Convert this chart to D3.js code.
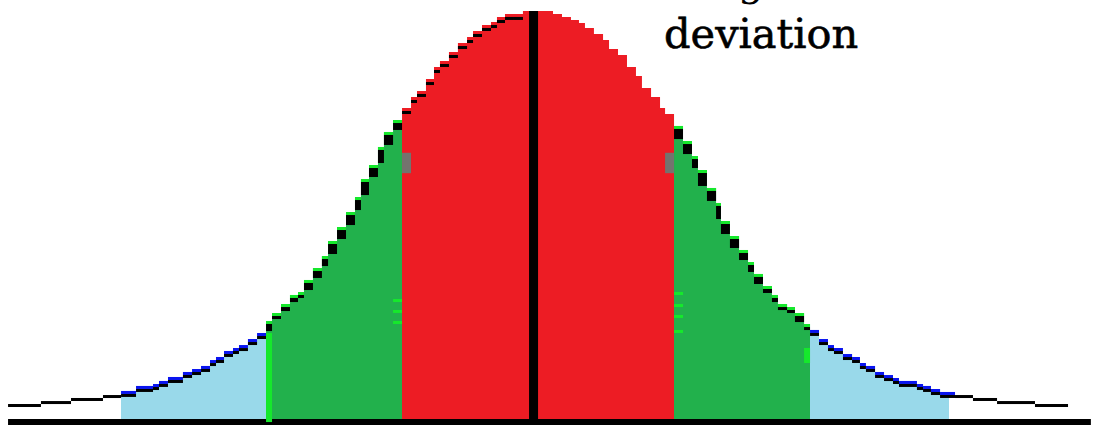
<!DOCTYPE html>
<html>
<head>
<meta charset="utf-8">
<script src="https://cdn.jsdelivr.net/npm/d3@7"></script>
<style>
  body { margin: 0; background: #fff; }
  svg { display: block; }
</style>
</head>
<body>
<svg id="chart"></svg>
<script>
// Step edges of the curve, in standard deviations from the mean
const stepZ = [
  -3.882, -3.640, -3.419, -3.184, -3.051, -2.941, -2.875, -2.816, -2.772, -2.706,
  -2.596, -2.529, -2.463, -2.397, -2.353, -2.294, -2.228, -2.184, -2.118, -2.051,
  -1.985, -1.941, -1.875, -1.809, -1.750, -1.706, -1.640, -1.574, -1.529, -1.463,
  -1.397, -1.331, -1.287, -1.228, -1.162, -1.118, -1.051, -0.985, -0.919, -0.875,
  -0.809, -0.750, -0.706, -0.640, -0.574, -0.507, -0.463, -0.397, -0.331, -0.287,
  -0.228, -0.162, -0.096, 0.125, 0.191, 0.257, 0.316, 0.360, 0.426, 0.493,
  0.537, 0.603, 0.669, 0.735, 0.779, 0.846, 0.912, 0.949, 1.015, 1.081,
  1.147, 1.191, 1.257, 1.324, 1.360, 1.426, 1.493, 1.559, 1.603, 1.669,
  1.735, 1.779, 1.846, 1.904, 1.971, 2.015, 2.081, 2.147, 2.191, 2.257,
  2.324, 2.382, 2.426, 2.493, 2.559, 2.625, 2.669, 2.801, 2.846, 2.904,
  2.971, 3.081, 3.213, 3.390, 3.669, 3.912
];

// Density (height of the curve) for each step
const stepDensity = [
  0.0147, 0.0176, 0.0206, 0.0235, 0.0275, 0.0324, 0.0324, 0.0343, 0.0373, 0.0412,
  0.0461, 0.0490, 0.0520, 0.0578, 0.0608, 0.0667, 0.0696, 0.0725, 0.0784, 0.0843,
  0.0961, 0.1039, 0.1127, 0.1216, 0.1245, 0.1363, 0.1480, 0.1598, 0.1745, 0.1882,
  0.2029, 0.2176, 0.2353, 0.2490, 0.2667, 0.2814, 0.2931, 0.3049, 0.3157, 0.3216,
  0.3333, 0.3451, 0.3510, 0.3598, 0.3686, 0.3745, 0.3804, 0.3863, 0.3892, 0.3941,
  0.3971, 0.3971, 0.4000, 0.3971, 0.3941, 0.3912, 0.3882, 0.3833, 0.3775, 0.3716,
  0.3627, 0.3569, 0.3451, 0.3363, 0.3245, 0.3157, 0.3049, 0.2990, 0.2873, 0.2725,
  0.2578, 0.2441, 0.2265, 0.2118, 0.1941, 0.1794, 0.1657, 0.1539, 0.1422, 0.1304,
  0.1216, 0.1127, 0.1098, 0.1039, 0.0931, 0.0873, 0.0784, 0.0725, 0.0696, 0.0637,
  0.0608, 0.0549, 0.0520, 0.0461, 0.0431, 0.0402, 0.0373, 0.0343, 0.0324, 0.0294,
  0.0265, 0.0235, 0.0206, 0.0176, 0.0147, 0.0147
];

// Shaded bands: edges at about -3, -2, -1, +1, +2, +3 sigma
const bandEdges = [-3.051, -1.985, -0.985, 1.015, 2.015, 3.037];
const bandNames = ['-3σ to -2σ', '-2σ to -1σ', '-1σ to +1σ', '+1σ to +2σ', '+2σ to +3σ'];

const meanZ = -0.018;
const axisExtent = [-3.882, 4.08];

// Small marks left on the picture at the band edges
const grayMarkZ = [-0.985, 0.949];
const grayMarkDensity = [0.241, 0.261];
const greenTicksLeft = [0.1176, 0.1069, 0.0961];
const greenTicksRight = [0.1245, 0.1127, 0.1020, 0.0873];
const greenBarLeft = [-0.003, 0.0843];
const greenBarRight = [0.0549, 0.0696];

const labelLines = ['g', 'deviation'];

(function() {
    'use strict';

    const width = 1101;
    const height = 433;

    const bandColors = ['#99d9ea', '#22b14c', '#ed1c24', '#22b14c', '#99d9ea'];
    const accentColors = ['#0a14f0', '#16e82c', null, '#16e82c', '#0a14f0'];
    const brightGreen = '#16e82c';

    const x = d3.scaleLinear().domain([-4, 4]).range([-8, 1080]);
    const y = d3.scaleLinear().domain([0, 0.4]).range([419, 11]);

    const svg = d3.select('#chart')
        .attr('width', width)
        .attr('height', height);

    const defs = svg.append('defs');

    const points = stepZ.map((z, i) => ({ z: z, d: stepDensity[i] }));

    const bands = bandNames.map((name, i) => ({
        name: name,
        from: bandEdges[i],
        to: bandEdges[i + 1],
        color: bandColors[i],
        accent: accentColors[i]
    }));

    // One step per pair of edges, tagged with the band it falls in
    const steps = d3.range(stepZ.length - 1).map(i => {
        const mid = (stepZ[i] + stepZ[i + 1]) / 2;
        const band = bands.findIndex(b => mid >= b.from && mid < b.to);
        const neighbour = mid < 0 ? stepDensity[i - 1] : stepDensity[i + 1];
        return {
            z0: stepZ[i],
            z1: stepZ[i + 1],
            d: stepDensity[i],
            lower: neighbour === undefined ? stepDensity[i] : neighbour,
            mid: mid,
            band: band
        };
    });

    // Clip paths, one per band
    bands.forEach((b, i) => {
        defs.append('clipPath')
            .attr('id', 'band-' + i)
            .append('rect')
            .attr('x', x(b.from))
            .attr('y', 0)
            .attr('width', x(b.to) - x(b.from))
            .attr('height', y(0));
    });

    const area = d3.area()
        .x(d => x(d.z))
        .y0(y(0))
        .y1(d => y(d.d))
        .curve(d3.curveStepAfter);

    // Filled bands
    svg.append('g')
        .selectAll('path')
        .data(bands)
        .enter()
        .append('path')
        .attr('clip-path', (d, i) => `url(#band-${i})`)
        .attr('fill', d => d.color)
        .attr('d', area(points));

    // Coloured rim on top of each step (green and blue bands)
    svg.append('g')
        .selectAll('rect')
        .data(steps.filter(s => s.band >= 0 && bands[s.band].accent))
        .enter()
        .append('rect')
        .attr('x', d => x(d.z0))
        .attr('y', d => y(d.d))
        .attr('width', d => x(d.z1) - x(d.z0))
        .attr('height', 3)
        .attr('fill', d => bands[d.band].accent);

    // Black outline, drawn step by step
    const outline = steps.filter(s => !(s.band === 2 && s.mid > meanZ));

    svg.append('g')
        .selectAll('rect')
        .data(outline)
        .enter()
        .append('rect')
        .attr('x', d => x(d.z0))
        .attr('y', d => d.band < 0 ? y(d.d) : y(d.d) + 3)
        .attr('width', d => x(d.z1) - x(d.z0))
        .attr('height', d => {
            if (d.band === 1 || d.band === 3) {
                return Math.max(3, y(d.lower) - y(d.d) - 5);
            }
            return 3;
        })
        .attr('fill', '#000');

    // Gray marks at the one sigma edges
    svg.append('g')
        .selectAll('rect')
        .data(grayMarkZ)
        .enter()
        .append('rect')
        .attr('x', d => x(d))
        .attr('y', y(grayMarkDensity[1]))
        .attr('width', 9)
        .attr('height', y(grayMarkDensity[0]) - y(grayMarkDensity[1]))
        .attr('fill', '#74736e');

    // Small bright green ticks beside the red band
    svg.append('g')
        .selectAll('rect')
        .data(greenTicksLeft)
        .enter()
        .append('rect')
        .attr('x', x(bandEdges[2]) - 9)
        .attr('y', d => y(d))
        .attr('width', 9)
        .attr('height', 3)
        .attr('fill', brightGreen);

    svg.append('g')
        .selectAll('rect')
        .data(greenTicksRight)
        .enter()
        .append('rect')
        .attr('x', x(bandEdges[3]))
        .attr('y', d => y(d))
        .attr('width', 9)
        .attr('height', 3)
        .attr('fill', brightGreen);

    // Baseline
    svg.append('rect')
        .attr('x', x(axisExtent[0]))
        .attr('y', y(0))
        .attr('width', x(axisExtent[1]) - x(axisExtent[0]))
        .attr('height', 6)
        .attr('fill', '#000');

    // Bright green bars at the two sigma edges
    svg.append('rect')
        .attr('x', x(bandEdges[1]))
        .attr('y', y(greenBarLeft[1]))
        .attr('width', 6)
        .attr('height', y(greenBarLeft[0]) - y(greenBarLeft[1]))
        .attr('fill', brightGreen);

    svg.append('rect')
        .attr('x', x(bandEdges[4]) - 6)
        .attr('y', y(greenBarRight[1]))
        .attr('width', 6)
        .attr('height', y(greenBarRight[0]) - y(greenBarRight[1]))
        .attr('fill', brightGreen);

    // Mean line
    svg.append('line')
        .attr('x1', x(meanZ))
        .attr('x2', x(meanZ))
        .attr('y1', y(0.4))
        .attr('y2', y(0))
        .attr('stroke', '#000')
        .attr('stroke-width', 9);

    // Label (upper line cut off by the top edge)
    svg.append('text')
        .attr('x', 751)
        .attr('y', -5)
        .attr('text-anchor', 'middle')
        .style('font-family', '"DejaVu Serif", serif')
        .style('font-size', '41px')
        .attr('fill', '#000')
        .text(labelLines[0]);

    svg.append('text')
        .attr('x', 664)
        .attr('y', 48)
        .style('font-family', '"DejaVu Serif", serif')
        .style('font-size', '41.5px')
        .attr('fill', '#000')
        .attr('stroke', '#000')
        .attr('stroke-width', 0.6)
        .text(labelLines[1]);
})();
</script>
</body>
</html>
